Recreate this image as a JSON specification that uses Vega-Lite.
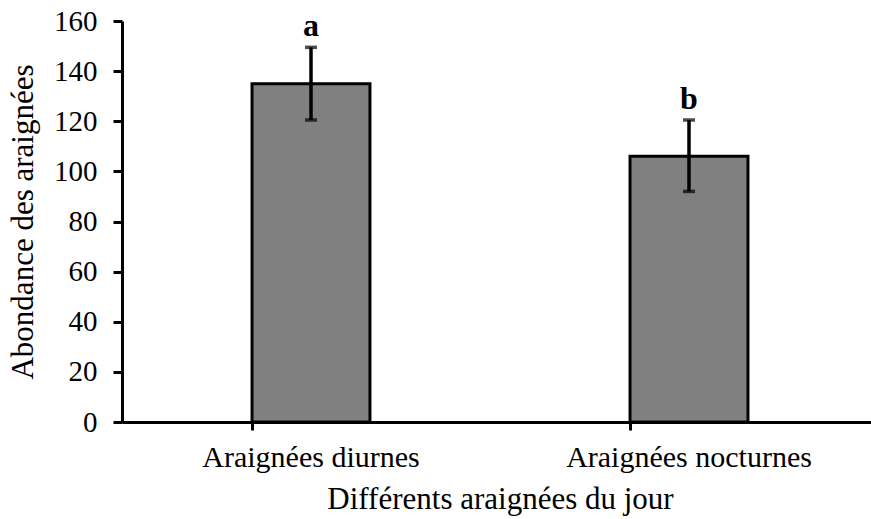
{
  "$schema": "https://vega.github.io/schema/vega-lite/v6.json",
  "autosize": "none",
  "padding": {"left": 122, "top": 21, "right": 0, "bottom": 97},
  "width": 756,
  "height": 401,
  "background": "white",
  "config": {
    "view": {"stroke": null},
    "font": "Liberation Serif",
    "axis": {"grid": false, "domainColor": "black", "domainWidth": 3, "tickColor": "black", "tickWidth": 3, "labelColor": "black", "titleColor": "black", "labelFont": "Liberation Serif", "titleFont": "Liberation Serif", "titleFontWeight": "normal"}
  },
  "data": {
    "values": [
      {"categorie": "Araignées diurnes", "abondance": 135, "lo": 120.5, "hi": 149.5, "lettre": "a"},
      {"categorie": "Araignées nocturnes", "abondance": 106, "lo": 92, "hi": 120.5, "lettre": "b"}
    ]
  },
  "encoding": {
    "x": {
      "field": "categorie",
      "type": "nominal",
      "sort": null,
      "scale": {"paddingInner": 0.688, "paddingOuter": 0.344},
      "axis": {"title": "Différents araignées du jour", "labelAngle": 0, "labelLimit": 500, "labelFont": "Liberation Serif", "titleFont": "Liberation Serif", "labelFontSize": 30, "titleFontSize": 31, "tickSize": 8, "labelPadding": 12, "titlePadding": 12, "bandPosition": 0}
    }
  },
  "layer": [
    {
      "mark": {"type": "bar", "fill": "#808080", "stroke": "black", "strokeWidth": 3},
      "encoding": {
        "y": {
          "field": "abondance",
          "type": "quantitative",
          "scale": {"domain": [0, 160]},
          "axis": {"title": "Abondance des araignées", "values": [0, 20, 40, 60, 80, 100, 120, 140, 160], "labelFont": "Liberation Serif", "titleFont": "Liberation Serif", "labelFontSize": 29, "titleFontSize": 31, "tickSize": 9, "labelPadding": 16, "titlePadding": 14}
        }
      }
    },
    {
      "mark": {"type": "rule", "color": "black", "strokeWidth": 3.5},
      "encoding": {"y": {"field": "lo", "type": "quantitative"}, "y2": {"field": "hi"}}
    },
    {
      "mark": {"type": "tick", "color": "black", "size": 12, "thickness": 3.5, "orient": "horizontal"},
      "encoding": {"y": {"field": "lo", "type": "quantitative"}}
    },
    {
      "mark": {"type": "tick", "color": "black", "size": 12, "thickness": 3.5, "orient": "horizontal"},
      "encoding": {"y": {"field": "hi", "type": "quantitative"}}
    },
    {
      "mark": {"type": "text", "font": "Liberation Serif", "fontWeight": "bold", "fontSize": 32, "baseline": "alphabetic", "dy": -11, "color": "black"},
      "encoding": {"y": {"field": "hi", "type": "quantitative"}, "text": {"field": "lettre"}}
    }
  ]
}
